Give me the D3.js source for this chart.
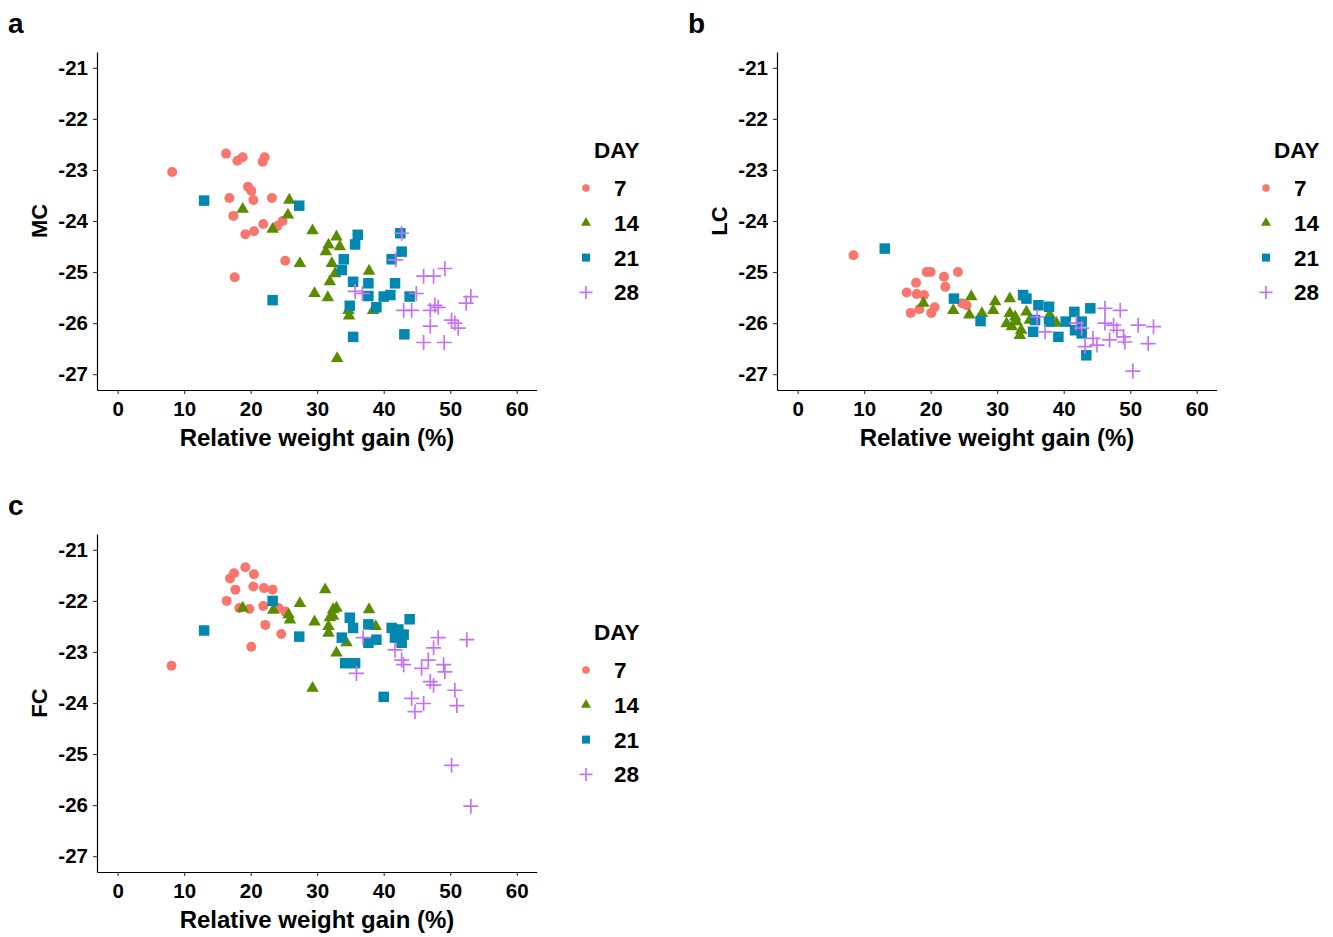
<!DOCTYPE html>
<html><head><meta charset="utf-8">
<script src="https://cdn.jsdelivr.net/npm/d3@7"></script>
<style>body{margin:0;background:#fff;} text{font-family:"Liberation Sans",Arial,sans-serif;font-weight:bold;}</style>
</head><body>
<svg id="chart" width="1333" height="937"></svg>
<script>
const days = ["7","14","21","28"];
const xTicks = [0,10,20,30,40,50,60];
const yTicks = [-21,-22,-23,-24,-25,-26,-27];
const panelNames = ["a","b","c"];
const yTitles = ["MC","LC","FC"];
const xTitle = "Relative weight gain (%)";
const legendTitle = "DAY";

// panel a (MC): [x, y] per day
const mc7 = [[8.2,-23.04],[16.3,-22.68],[18.0,-22.82],[18.8,-22.75],[21.8,-22.84],[22.1,-22.75],[19.6,-23.33],[20.1,-23.41],[20.4,-23.59],[16.8,-23.55],[23.2,-23.55],[17.4,-23.9],[19.2,-24.26],[20.5,-24.2],[21.9,-24.06],[24.0,-24.1],[24.8,-24.0],[25.2,-24.78],[17.6,-25.1]];
const mc14 = [[18.8,-23.77],[25.8,-23.59],[25.6,-23.88],[23.3,-24.16],[29.3,-24.19],[27.4,-24.83],[29.6,-25.42],[32.9,-24.31],[31.7,-24.47],[31.3,-24.6],[33.4,-24.5],[32.2,-24.83],[32.7,-25.03],[31.9,-25.19],[37.8,-24.98],[31.6,-25.5],[34.7,-25.75],[34.8,-25.86],[38.4,-25.75],[33.0,-26.69]];
const mc21 = [[13.0,-23.6],[27.3,-23.7],[23.3,-25.55],[36.1,-24.27],[35.7,-24.46],[34.0,-24.75],[33.7,-24.96],[35.4,-25.19],[37.7,-25.22],[41.7,-25.22],[37.7,-25.47],[40.0,-25.48],[41.0,-25.45],[43.9,-25.48],[38.9,-25.69],[34.9,-25.66],[35.4,-26.27],[43.1,-26.22],[42.5,-24.24],[42.7,-24.6],[41.2,-24.75]];
const mc28 = [[42.7,-24.24],[41.8,-24.76],[35.7,-25.38],[36.8,-25.42],[46.0,-25.08],[47.5,-25.08],[49.2,-24.93],[44.9,-25.42],[43.0,-25.75],[44.2,-25.75],[47.0,-25.75],[47.7,-25.65],[48.2,-25.69],[47.0,-26.06],[50.2,-25.94],[50.7,-26.0],[51.2,-26.1],[52.4,-25.61],[53.1,-25.48],[46.0,-26.38],[49.1,-26.38]];

// panel b (LC)
const lc7 = [[8.4,-24.67],[19.4,-25.0],[20.0,-25.0],[22.0,-25.09],[24.1,-25.0],[17.8,-25.21],[22.2,-25.29],[16.4,-25.4],[17.9,-25.43],[19.0,-25.45],[20.6,-25.69],[20.1,-25.8],[17.0,-25.8],[18.3,-25.73],[24.7,-25.61],[25.4,-25.65]];
const lc14 = [[18.9,-25.61],[23.4,-25.75],[26.1,-25.48],[25.8,-25.84],[27.7,-25.81],[29.7,-25.58],[29.4,-25.75],[31.9,-25.52],[31.9,-25.81],[31.4,-26.01],[32.2,-26.07],[33.4,-26.24],[32.7,-25.88],[32.9,-25.97],[34.4,-25.78],[33.6,-26.14],[37.9,-25.84],[38.9,-26.0],[34.9,-25.94]];
const lc21 = [[13.1,-24.54],[23.5,-25.52],[27.5,-25.96],[33.9,-25.45],[34.4,-25.52],[36.2,-25.65],[37.8,-25.68],[35.7,-25.94],[35.4,-26.17],[37.8,-25.97],[39.2,-26.27],[40.3,-25.97],[41.6,-25.78],[41.7,-26.14],[42.7,-25.97],[44.0,-25.71],[43.4,-26.63],[42.7,-26.2]];
const lc28 = [[36.0,-25.88],[37.2,-26.17],[41.9,-26.0],[42.7,-26.1],[44.4,-26.3],[43.2,-26.46],[45.0,-26.43],[46.2,-25.71],[48.5,-25.75],[46.2,-26.0],[47.5,-26.04],[48.0,-26.14],[46.9,-26.33],[49.0,-26.27],[49.2,-26.37],[51.2,-26.04],[53.5,-26.07],[52.7,-26.4],[50.4,-26.94]];

// panel c (FC)
const fc7 = [[8.1,-23.27],[19.2,-21.34],[16.9,-21.56],[17.5,-21.46],[20.5,-21.48],[17.7,-21.78],[20.4,-21.72],[22.0,-21.75],[23.3,-21.78],[16.4,-22.0],[18.3,-22.14],[19.8,-22.16],[21.9,-22.1],[24.2,-22.14],[25.2,-22.21],[22.2,-22.47],[24.6,-22.65],[20.1,-22.9]];
const fc14 = [[18.8,-22.14],[23.4,-22.18],[25.7,-22.27],[25.9,-22.37],[27.4,-22.05],[29.6,-22.41],[29.3,-23.71],[31.2,-21.78],[32.4,-22.17],[32.9,-22.14],[31.9,-22.33],[31.7,-22.5],[31.7,-22.63],[32.4,-22.3],[37.8,-22.17],[38.8,-22.5],[34.4,-22.82],[32.9,-23.02]];
const fc21 = [[13.0,-22.58],[23.3,-22.0],[27.3,-22.7],[34.9,-22.33],[35.4,-22.53],[33.7,-22.72],[37.7,-22.46],[38.9,-22.76],[37.7,-22.82],[34.2,-23.22],[35.7,-23.22],[41.2,-22.53],[42.2,-22.56],[43.0,-22.66],[42.7,-22.82],[41.7,-22.72],[43.9,-22.36],[40.0,-23.88]];
const fc28 = [[36.9,-22.72],[35.9,-23.42],[41.7,-22.96],[42.7,-23.16],[43.0,-23.25],[48.2,-22.72],[47.5,-22.92],[52.5,-22.76],[46.7,-23.16],[45.7,-23.32],[49.0,-23.25],[49.2,-23.39],[47.0,-23.58],[47.5,-23.65],[50.7,-23.75],[44.2,-23.91],[46.0,-24.01],[44.7,-24.17],[51.0,-24.05],[50.2,-25.22],[53.1,-26.02]];

const panelData = [[mc7,mc14,mc21,mc28],[lc7,lc14,lc21,lc28],[fc7,fc14,fc21,fc28]];
const colors = ["#F8766D","#5A8C00","#0088B0","#C474F2"];
const offsets = [[0,0],[680,0],[0,482]];

const svg = d3.select("#chart");
const x = d3.scaleLinear().domain([-3.1,63.0]).range([97,536.7]);
const y = d3.scaleLinear().domain([-27.31,-20.69]).range([390,52]);

function drawSymbol(g, i, cx, cy, big){
  const c = colors[i];
  if(i===0){
    g.append("circle").attr("cx",cx).attr("cy",cy).attr("r",big?5:3.8).attr("fill",c);
  } else if(i===1){
    const s = big?12.5:10;
    const h = s*Math.sqrt(3)/2;
    g.append("path").attr("d",`M${cx},${cy-h*2/3}L${cx+s/2},${cy+h/3}L${cx-s/2},${cy+h/3}Z`).attr("fill",c);
  } else if(i===2){
    const s = big?10.5:8;
    g.append("rect").attr("x",cx-s/2).attr("y",cy-s/2).attr("width",s).attr("height",s).attr("fill",c);
  } else {
    const s = big?7.5:6.5;
    g.append("path").attr("d",`M${cx-s},${cy}H${cx+s}M${cx},${cy-s}V${cy+s}`).attr("stroke",c).attr("stroke-width",1.7).attr("fill","none");
  }
}

panelData.forEach((series, p) => {
  const [dx,dy] = offsets[p];
  const g = svg.append("g").attr("transform",`translate(${dx},${dy})`);
  // axes
  const xa = g.append("g").attr("transform","translate(0,390)")
    .call(d3.axisBottom(x).tickValues(xTicks).tickFormat(d=>String(d)).tickSize(4).tickPadding(7).tickSizeOuter(0));
  const ya = g.append("g").attr("transform","translate(97,0)")
    .call(d3.axisLeft(y).tickValues(yTicks).tickFormat(d=>String(d)).tickSize(4).tickPadding(5).tickSizeOuter(0));
  [xa,ya].forEach(a=>{
    a.select(".domain").attr("stroke","#000").attr("stroke-width",1.2);
    a.selectAll(".tick line").attr("stroke","#333").attr("stroke-width",1.1);
    a.selectAll(".tick text").attr("fill","#000").style("font-size","20.5px").style("font-weight","bold").style("font-family","Liberation Sans, Arial, sans-serif");
  });
  // points
  const pts = g.append("g");
  series.forEach((arr, i) => {
    arr.forEach(d => drawSymbol(pts, i, x(d[0]), y(d[1]), true));
  });
  // titles
  g.append("text").attr("x",317).attr("y",446).attr("text-anchor","middle").style("font-size","24px").text(xTitle);
  g.append("text").attr("transform","translate(47,221) rotate(-90)").attr("text-anchor","middle").style("font-size","22px").text(yTitles[p]);
  g.append("text").attr("x",8).attr("y",33).style("font-size","28px").text(panelNames[p]);
  // legend
  const lg = g.append("g");
  lg.append("text").attr("x",594).attr("y",158).style("font-size","22.5px").text(legendTitle);
  days.forEach((d,i)=>{
    const cy = 188 + i*34.8;
    drawSymbol(lg, i, 586, cy, false);
    lg.append("text").attr("x",614).attr("y",cy+8).style("font-size","22.5px").text(d);
  });
});
</script>
</body></html>
